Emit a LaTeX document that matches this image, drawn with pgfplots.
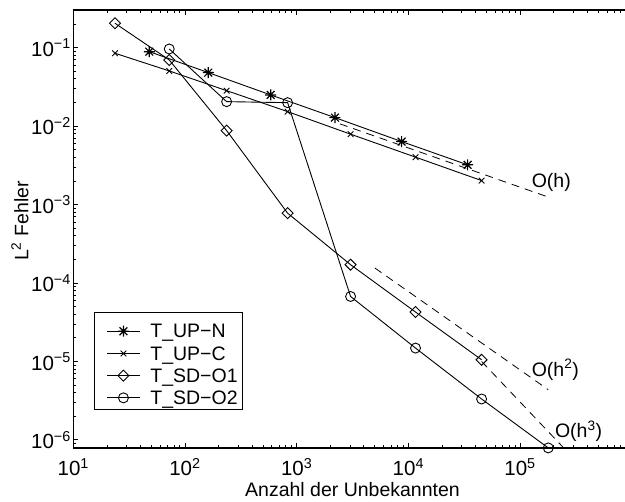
\documentclass[border=0pt]{standalone}
\usepackage{fontspec}
\setmainfont{Liberation Sans}
\usepackage{pgfplots}
\pgfplotsset{compat=1.18}
\pgfdeclareplotmark{mstar}{%
 \pgfpathmoveto{\pgfqpoint{-\pgfplotmarksize}{0pt}}\pgfpathlineto{\pgfqpoint{\pgfplotmarksize}{0pt}}%
 \pgfpathmoveto{\pgfqpoint{0pt}{-\pgfplotmarksize}}\pgfpathlineto{\pgfqpoint{0pt}{\pgfplotmarksize}}%
 \pgfpathmoveto{\pgfqpoint{-.707\pgfplotmarksize}{-.707\pgfplotmarksize}}\pgfpathlineto{\pgfqpoint{.707\pgfplotmarksize}{.707\pgfplotmarksize}}%
 \pgfpathmoveto{\pgfqpoint{-.707\pgfplotmarksize}{.707\pgfplotmarksize}}\pgfpathlineto{\pgfqpoint{.707\pgfplotmarksize}{-.707\pgfplotmarksize}}%
 \pgfusepathqstroke}
\pgfdeclareplotmark{mdiamond}{%
 \pgfpathmoveto{\pgfqpoint{0pt}{\pgfplotmarksize}}\pgfpathlineto{\pgfqpoint{\pgfplotmarksize}{0pt}}%
 \pgfpathlineto{\pgfqpoint{0pt}{-\pgfplotmarksize}}\pgfpathlineto{\pgfqpoint{-\pgfplotmarksize}{0pt}}%
 \pgfpathclose\pgfusepathqstroke}
\begin{document}
\begin{tikzpicture}
\begin{axis}[
  scale only axis, width=558.4pt, height=438pt,
  xmode=log, ymode=log,
  xmin=10, xmax=1e6, ymin=7.88e-7, ymax=0.302,
  xtick={10,100,1000,10000,100000,1000000},
  xticklabels={10\textsuperscript{1},10\textsuperscript{2},10\textsuperscript{3},10\textsuperscript{4},10\textsuperscript{5},},
  minor xtick={20,30,40,50,60,70,80,90,200,300,400,500,600,700,800,900,2000,3000,4000,5000,6000,7000,8000,9000,20000,30000,40000,50000,60000,70000,80000,90000,200000,300000,400000,500000,600000,700000,800000,900000},
  ytick={1e-6,1e-5,1e-4,1e-3,1e-2,1e-1},
  yticklabels={10\textsuperscript{−6},10\textsuperscript{−5},10\textsuperscript{−4},10\textsuperscript{−3},10\textsuperscript{−2},10\textsuperscript{−1}},
  minor ytick={8e-7,9e-7,2e-6,3e-6,4e-6,5e-6,6e-6,7e-6,8e-6,9e-6,2e-5,3e-5,4e-5,5e-5,6e-5,7e-5,8e-5,9e-5,2e-4,3e-4,4e-4,5e-4,6e-4,7e-4,8e-4,9e-4,2e-3,3e-3,4e-3,5e-3,6e-3,7e-3,8e-3,9e-3,2e-2,3e-2,4e-2,5e-2,6e-2,7e-2,8e-2,9e-2,2e-1,3e-1},
  tick align=inside, major tick length=5pt, minor tick length=3pt,
  axis line style={line width=1.2pt},
  every tick/.style={black, line width=0.8pt},
  tick label style={font=\fontsize{20.5}{20.5}\selectfont},
  xticklabel style={inner sep=0pt, yshift=-10pt},
  yticklabel style={xshift=1pt},
  label style={font=\fontsize{19.5}{20}\selectfont},
  xlabel={Anzahl der Unbekannten},
  xlabel style={at={(rel axis cs:0.5,0)}, anchor=base, inner sep=0pt, yshift=-49pt},
  ylabel={L\textsuperscript{2} Fehler},
  ylabel style={at={(rel axis cs:-0.0955,0.518)}, anchor=center},
  clip mode=individual,
  legend style={at={(0.03707,0.08676)}, anchor=south west, draw=black, line width=1pt,
    font=\fontsize{19.5}{20}\selectfont, inner xsep=5pt, inner ysep=0.9pt, row sep=4.7pt,
    cells={anchor=base west},
    nodes={inner sep=0pt, text height=13.5pt, text depth=4pt},
    /tikz/every odd column/.append style={column sep=10pt}},
  legend image code/.code={%
    \path (0pt,0pt);
    \draw[#1, mark repeat=2, mark phase=2] plot coordinates {(7pt,6.75pt)(23.5pt,6.75pt)(40pt,6.75pt)};},
  every axis plot/.append style={black, line width=0.9pt, mark options={solid, line width=0.9pt}},
]
\addplot[mark=mstar, mark size=5.5pt, mark options={solid, line width=1.2pt}] coordinates {(47.9,0.0889)(161.7,0.0481)(585,0.02497)(2203,0.01283)(8710,0.00635)(33950,0.00321)};
\addlegendentry[text height=24.5pt]{T\_UP−N}
\addplot[mark=x, mark size=4pt] coordinates {(23.6,0.0849)(72.3,0.0505)(236,0.0283)(830,0.0153)(3040,0.00789)(11600,0.00402)(45300,0.00202)};
\addlegendentry{T\_UP−C}
\addplot[mark=mdiamond, mark size=5.5pt] coordinates {(23.6,0.2047)(72.3,0.0697)(236,0.00877)(830,7.76e-4)(3040,1.71e-4)(11600,4.26e-5)(45300,1.05e-5)};
\addlegendentry{T\_SD−O1}
\addplot[mark=o, mark size=5pt] coordinates {(72.3,0.0962)(236,0.0205)(830,0.0199)(3040,6.73e-5)(11600,1.48e-5)(45300,3.32e-6)(179000,7.9e-7)};
\addlegendentry{T\_SD−O2}
\addplot[forget plot, dash pattern=on 8pt off 6pt, line width=0.8pt] coordinates {(2440,0.01067)(179000,1.245e-3)};
\addplot[forget plot, dash pattern=on 8pt off 6pt, line width=0.8pt] coordinates {(5020,1.55e-4)(179000,4.36e-6)};
\addplot[forget plot, dash pattern=on 8pt off 6pt, line width=0.8pt] coordinates {(45300,1.0e-5)(246000,7.9e-7)};
\node[anchor=base west, inner sep=0pt, font=\fontsize{19.5}{20}\selectfont] at (axis cs:1.27e5,1.63e-3) {O(h)};
\node[anchor=base west, inner sep=0pt, font=\fontsize{19.5}{20}\selectfont] at (axis cs:1.27e5,6.44e-6) {O(h\textsuperscript{2})};
\node[anchor=base west, inner sep=0pt, font=\fontsize{19.5}{20}\selectfont] at (axis cs:2.05e5,1.057e-6) {O(h\textsuperscript{3})};
\end{axis}
\pgfresetboundingbox
\path[use as bounding box] (-73.3pt,-54pt) rectangle (551.7pt,448pt);
\end{tikzpicture}
\end{document}
